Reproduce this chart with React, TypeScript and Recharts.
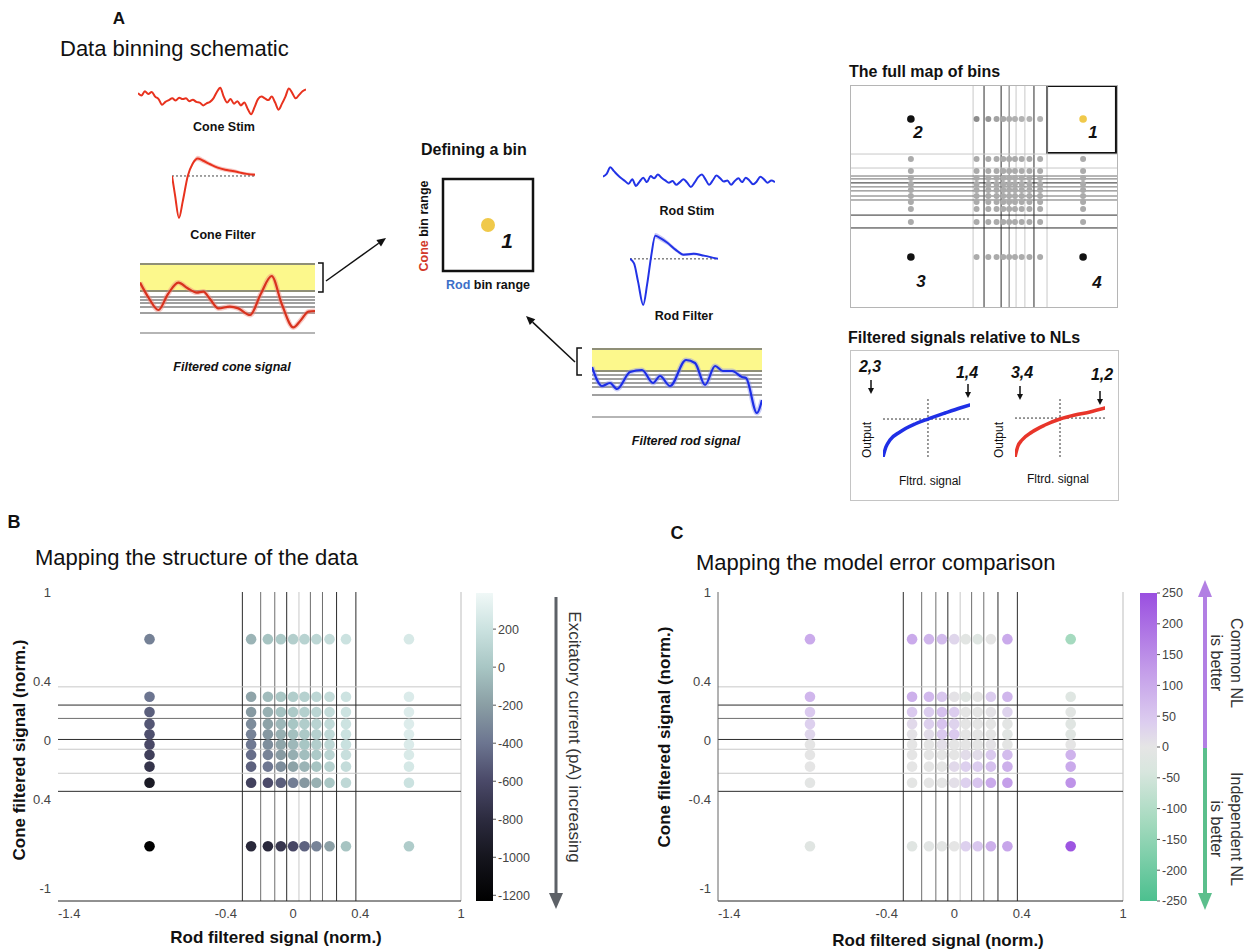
import React from 'react';
import {
  ScatterChart, Scatter, XAxis, YAxis, ReferenceLine, ReferenceArea, Cell,
  BarChart, Bar, LineChart, Line, ComposedChart, Area,
} from 'recharts';

const FONT = '"Liberation Sans", Arial, Helvetica, sans-serif';

// ---------- panels B and C: bins ----------
const rodBinCenters = [-0.855, -0.25, -0.15, -0.073, 0.0, 0.068, 0.139, 0.217, 0.315, 0.69];
const coneBinCenters = [0.682, 0.293, 0.19, 0.11, 0.04, -0.029, -0.099, -0.178, -0.287, -0.716];
const rodBinEdges = [-0.302, -0.193, -0.109, -0.038, 0.035, 0.103, 0.175, 0.259, 0.374];
const rodEdgeShade = ['dark', 'mid', 'mid', 'dark', 'light', 'mid', 'mid', 'dark', 'dark'];
const coneBinEdges = [0.36, 0.237, 0.147, 0.005, -0.061, -0.223, -0.345];
const coneEdgeShade = ['light', 'dark', 'mid', 'dark', 'light', 'light', 'dark'];
const rodTicks = [-1.4, -0.4, 0, 0.4, 1];
const coneTicks = [1, 0.4, 0, -0.4, -1];

// excitatory current (pA), rows = cone bins top->bottom, cols = rod bins left->right
const excitatoryCurrent = [
  [-340, -90, -10, 30, 60, 90, 120, 160, 200, 260],
  [-400, -170, -50, 10, 50, 80, 120, 160, 210, 280],
  [-500, -220, -110, -20, 30, 70, 110, 160, 210, 290],
  [-540, -290, -180, -70, 0, 50, 100, 150, 210, 290],
  [-570, -330, -230, -110, -30, 20, 80, 140, 200, 290],
  [-610, -380, -280, -160, -70, 0, 60, 130, 190, 280],
  [-670, -430, -330, -210, -120, -40, 30, 110, 180, 270],
  [-740, -490, -390, -280, -180, -90, -10, 80, 160, 250],
  [-950, -650, -590, -500, -360, -230, -110, 10, 130, 200],
  [-1220, -830, -820, -720, -620, -480, -330, -190, -10, 40],
];

// model error difference, positive = common NL better
const errorDifference = [
  [100, 100, 80, 70, 25, -10, -20, 0, 100, -120],
  [80, 90, 75, 50, 5, -15, 0, 40, 80, -20],
  [45, 45, 40, 60, 40, 0, 0, 5, 30, -10],
  [35, 20, 35, 55, 30, 0, 0, 0, -5, -15],
  [25, 5, 15, 45, 45, 0, 0, 0, -12, -15],
  [0, 0, 0, 10, 0, 0, 0, 5, -3, 0],
  [0, 0, 0, 0, 0, 15, 15, 45, 70, 85],
  [0, 0, 0, 0, 20, 35, 40, 60, 90, 100],
  [-5, -3, 0, 0, 10, 35, 55, 100, 120, 140],
  [-15, -15, -8, -5, 0, 35, 50, 90, 110, 240],
];

const currentRange = [-1230, 390];
const currentTicks = [200, 0, -200, -400, -600, -800, -1000, -1200];
const errorRange = [-250, 250];
const errorTicks = [250, 200, 150, 100, 50, 0, -50, -100, -150, -200, -250];

const currentStops: [number, string][] = [
  [-1230, '#000000'], [-1000, '#15151d'], [-800, '#2c2b3f'], [-600, '#4a4968'],
  [-400, '#6c7590'], [-200, '#8a9ea4'], [0, '#a8c6c4'], [200, '#cbe2e0'], [390, '#f0f8f7'],
];
const errorStops: [number, string][] = [
  [-250, '#4cc08f'], [-125, '#a2d9bd'], [-40, '#d8e6de'], [0, '#e5e5e5'],
  [40, '#dccdef'], [125, '#c39ce9'], [250, '#9a4fe0'],
];

// ---------- panel A schematic traces ----------
const coneStimTrace = [2.5, 1.8, 3.0, 2.2, 2.8, 1.5, 0.8, -0.8, 0, 0.5, 1.0, 0.4, 1.2, 0.8, 1.0, 0.2, 0.6, 0, -0.2, -1.0,
  -0.4, 0, 1.0, 2.8, 4.0, 1.5, -0.2, 0.8, -0.5, 0.2, -1.0, -0.2, -2.0, -3.5, -1.5, 0.8, 1.5, 1.0, 0.5, 1.5,
  -0.2, -2.2, -0.5, 1.5, 3.8, 2.5, 1.0, 2.0, 3.0, 3.5];
const rodStimTrace = [0.5, 1.0, 2.2, 1.5, 0.8, 0.2, -0.3, -0.8, 0.0, -1.2, -0.4, 0.3, -0.5, 0.6, 0.2, 0.9, 0.3, -0.2, -0.6, -0.3,
  -1.0, -0.5, 0.0, -0.6, -1.4, -0.6, 0.4, 0.9, 0.0, -1.0, -0.2, 0.7, 0.2, -0.4, -0.2, -1.0, -0.3, 0.2, -0.5, 0.3,
  -0.2, -0.9, -0.4, 0.5, 0.0, -0.6, -0.2, -0.5];

const coneFilterT = [0, 3.6, 8.4, 13, 19, 25, 31, 37, 46, 55, 64, 73, 82, 90, 100];
const coneFilterV = [0, -0.45, -1.0, -0.6, 0.0, 0.3, 0.42, 0.37, 0.28, 0.2, 0.15, 0.12, 0.08, 0.05, 0.03];
const coneFilterErr = [0, 0, 0, 0.01, 0.02, 0.04, 0.06, 0.06, 0.05, 0.05, 0.05, 0.05, 0.04, 0.04, 0.04];
const rodFilterT = [0, 4.6, 9.2, 15, 19.5, 24, 28.7, 34.5, 42.5, 51.7, 60.9, 72.4, 83.9, 100];
const rodFilterV = [0, -0.1, -0.5, -1.0, -0.55, 0.05, 0.5, 0.45, 0.35, 0.2, 0.09, 0.11, 0.07, 0.0];
const rodFilterErr = [0, 0, 0, 0, 0.01, 0.03, 0.06, 0.06, 0.05, 0.04, 0.03, 0.03, 0.02, 0.01];

const coneSignalT = [0, 5, 10.5, 16, 21.9, 27, 32.4, 36.2, 40, 44.8, 51.4, 56.2, 62.9, 69, 75.2, 81, 87.6, 92, 96.2, 100];
const coneSignalV = [0.87, 0.1, -0.5, 0.3, 0.87, 0.6, 0.37, 0.42, 0.05, -0.42, -0.33, -0.42, -0.75, 0.3, 1.2, -0.2, -1.37, -1.0, -0.58, -0.55];
const coneLevels = [1.8, 0.45, 0.15, 0, -0.15, -0.35, -0.65, -1.65];
const coneBand = [0.45, 1.8];
const rodSignalT = [0, 5.9, 10.6, 14.7, 22.4, 29.4, 35.9, 40, 45.9, 55.3, 60.6, 66.5, 72.4, 77, 82.4, 88.2, 90.6, 97, 100];
const rodSignalV = [0.9, -0.05, 0.1, -0.2, 0.65, 0.75, 0.1, 0.45, -0.05, 1.25, 1.1, 0.0, 0.95, 0.7, 0.7, 0.4, 0.35, -1.4, -0.75];
const rodLevels = [1.8, 0.7, 0.5, 0.3, 0.1, -0.1, -0.5, -1.6];
const rodBand = [0.7, 1.8];

// full map of bins (schematic units 0-100)
const mapCols = [22.8, 47.4, 51.8, 54.9, 57.4, 59.6, 61.8, 64.3, 67.2, 71.2, 87.3];
const mapRows = [84.7, 66.7, 61.3, 58.1, 55.4, 52.7, 50.0, 47.3, 44.1, 38.3, 22.5];
const mapVLines = [46.1, 50.2, 56.6, 59.6, 62.2, 65.5, 68.9, 73.8];
const mapVShade = ['light', 'dark', 'dark', 'mid', 'light', 'light', 'dark', 'light'];
const mapHLines = [68.9, 62.6, 59.0, 57.7, 55.9, 54.1, 52.3, 50.0, 48.2, 41.4, 35.6];
const mapHShade = ['light', 'light', 'mid', 'mid', 'dark', 'mid', 'mid', 'mid', 'mid', 'dark', 'dark'];
const mapTopShade = ['#8c8c8c', '#969696', '#a3a3a3', '#a8a8a8', '#adadad', '#b0b0b0', '#b3b3b3', '#b3b3b3', '#b3b3b3'];

// nonlinearity curves (normalised)
const rodNlX = [0, 0.034, 0.08, 0.195, 0.368, 0.517, 0.713, 0.885, 1];
const rodNlY = [0, 0.167, 0.283, 0.417, 0.55, 0.633, 0.733, 0.817, 0.867];
const coneNlX = [0, 0.033, 0.078, 0.189, 0.333, 0.5, 0.667, 0.833, 1];
const coneNlY = [0, 0.186, 0.288, 0.424, 0.542, 0.644, 0.712, 0.763, 0.83];

const shadeColor: Record<string, string> = { dark: '#2b2b2b', mid: '#6e6e6e', light: '#c8c8c8' };

const hexToRgb = (h: string) => [1, 3, 5].map((i) => parseInt(h.slice(i, i + 2), 16));
const makeScale = (stops: [number, string][]) => (v: number) => {
  if (v <= stops[0][0]) return stops[0][1];
  for (let k = 1; k < stops.length; k++) {
    if (v <= stops[k][0]) {
      const t = (v - stops[k - 1][0]) / (stops[k][0] - stops[k - 1][0]);
      const a = hexToRgb(stops[k - 1][1]);
      const b = hexToRgb(stops[k][1]);
      return `rgb(${a.map((x, i) => Math.round(x + (b[i] - x) * t)).join(',')})`;
    }
  }
  return stops[stops.length - 1][1];
};
const currentColor = makeScale(currentStops);
const errorColor = makeScale(errorStops);

const Txt = ({ x, y, children, size = 13, bold = false, italic = false, rotate = 0, color = '#111', start = false, lh }: any) => (
  <div
    style={{
      position: 'absolute', left: x, top: y, whiteSpace: 'nowrap', fontSize: size,
      fontWeight: bold ? 700 : 400, fontStyle: italic ? 'italic' : 'normal', color,
      lineHeight: lh || 1.15, textAlign: 'center',
      transform: `translate(${start ? '0' : '-50%'}, -50%) rotate(${rotate}deg)`,
    }}
  >
    {children}
  </div>
);

function Arrow({ x1, y1, x2, y2, color = '#111', w = 1.5, head = 9, hw = 4 }: any) {
  const dx = x2 - x1, dy = y2 - y1, L = Math.hypot(dx, dy), ux = dx / L, uy = dy / L;
  const bx = x2 - ux * head, by = y2 - uy * head;
  return (
    <g>
      <line x1={x1} y1={y1} x2={bx} y2={by} stroke={color} strokeWidth={w} />
      <polygon points={`${x2},${y2} ${bx - uy * hw},${by + ux * hw} ${bx + uy * hw},${by - ux * hw}`} fill={color} />
    </g>
  );
}

const RodTick = (props: any) => {
  const { x, y, payload } = props;
  return (
    <text x={x} y={y} dy="0.71em" textAnchor={payload.value === -1.4 ? 'start' : 'middle'} fontSize={13} fill="#444">
      {payload.value}
    </text>
  );
};

const dotShape = (r: number) => (p: any) => <circle cx={p.cx} cy={p.cy} r={r} fill={p.fill} />;

function BinScatter({ grid, colorOf, left, width, yFmt, leftAxis }: any) {
  const pts: any[] = [];
  coneBinCenters.forEach((cy, i) =>
    rodBinCenters.forEach((cx, j) => pts.push({ rod: cx, cone: cy, v: grid[i][j] })));
  return (
    <div style={{ position: 'absolute', left, top: 560 }}>
      <ScatterChart width={width} height={392} margin={{ top: 32, right: 20, bottom: 21, left: 18 }}>
        <XAxis type="number" dataKey="rod" domain={[-1.4, 1]} ticks={rodTicks} interval={0} tick={<RodTick />}
          tickLine={false} tickSize={0} tickMargin={8} axisLine={{ stroke: '#222' }} height={30} allowDataOverflow />
        <YAxis type="number" dataKey="cone" domain={[-1.085, 1]} ticks={coneTicks} interval={0} tickFormatter={yFmt}
          tickLine={false} tickSize={0} tickMargin={7} axisLine={leftAxis ? { stroke: '#666' } : false} width={40}
          tick={{ fontSize: 13, fill: '#444' }} allowDataOverflow />
        <ReferenceLine x={1} stroke="#bdbdbd" />
        {rodBinEdges.map((e, k) => (
          <ReferenceLine key={'v' + k} x={e} stroke={shadeColor[rodEdgeShade[k]]} strokeWidth={1} />
        ))}
        {coneBinEdges.map((e, k) => (
          <ReferenceLine key={'h' + k} y={e} stroke={shadeColor[coneEdgeShade[k]]} strokeWidth={1} />
        ))}
        <Scatter data={pts} isAnimationActive={false} shape={dotShape(5.3)}>
          {pts.map((p, k) => <Cell key={k} fill={colorOf(p.v)} />)}
        </Scatter>
      </ScatterChart>
    </div>
  );
}

function ColorBar({ left, range, ticks, gradId }: any) {
  return (
    <div style={{ position: 'absolute', left, top: 560 }}>
      <BarChart width={100} height={392} data={[{ name: 'cb', span: range }]}
        margin={{ top: 33, right: 27, bottom: 51, left: 6 }} barCategoryGap={0}>
        <XAxis dataKey="name" hide />
        <YAxis orientation="right" type="number" domain={range} ticks={ticks} interval={0} width={50}
          axisLine={false} tickSize={3} tickMargin={2} tickLine={{ stroke: '#555' }}
          tick={{ fontSize: 12.5, fill: '#444' }} allowDataOverflow />
        <Bar dataKey="span" fill={`url(#${gradId})`} isAnimationActive={false} />
      </BarChart>
    </div>
  );
}

function Gradient({ id, stops, range }: any) {
  const [lo, hi] = range;
  const ordered = [...stops].reverse();
  return (
    <linearGradient id={id} x1="0" y1="0" x2="0" y2="1">
      {ordered.map(([v, c]: any, k: number) => (
        <stop key={k} offset={(hi - v) / (hi - lo)} stopColor={c} />
      ))}
    </linearGradient>
  );
}

function StimTrace({ left, top, width, height, values, color, domain }: any) {
  const data = values.map((v: number, i: number) => ({ i, v }));
  return (
    <div style={{ position: 'absolute', left, top }}>
      <LineChart width={width} height={height} data={data} margin={{ top: 0, right: 0, bottom: 0, left: 0 }}>
        <XAxis type="number" dataKey="i" domain={[0, values.length - 1]} hide />
        <YAxis domain={domain} hide />
        <Line dataKey="v" stroke={color} strokeWidth={2} dot={false} type="monotone" isAnimationActive={false} />
      </LineChart>
    </div>
  );
}

function FilterTrace({ left, top, width, height, t, v, err, color, shade, domain }: any) {
  const data = t.map((tt: number, i: number) => ({ t: tt, v: v[i], band: [v[i] - err[i], v[i] + err[i]] }));
  return (
    <div style={{ position: 'absolute', left, top }}>
      <ComposedChart width={width} height={height} data={data} margin={{ top: 0, right: 0, bottom: 0, left: 0 }}>
        <XAxis type="number" dataKey="t" domain={[0, 100]} hide />
        <YAxis domain={domain} hide allowDataOverflow />
        <ReferenceLine y={0} stroke="#444" strokeDasharray="2 2" />
        <Area dataKey="band" stroke="none" fill={shade} fillOpacity={0.8} type="monotone" isAnimationActive={false} />
        <Line dataKey="v" stroke={color} strokeWidth={2} dot={false} type="monotone" isAnimationActive={false} />
      </ComposedChart>
    </div>
  );
}

function FilteredSignal({ left, top, width, height, t, v, levels, band, color, glow }: any) {
  const data = t.map((tt: number, i: number) => ({ t: tt, v: v[i] }));
  return (
    <div style={{ position: 'absolute', left, top }}>
      <LineChart width={width} height={height} data={data} margin={{ top: 0, right: 0, bottom: 0, left: 0 }}>
        <XAxis type="number" dataKey="t" domain={[0, 100]} hide />
        <YAxis domain={[-2, 2.25]} hide allowDataOverflow />
        <ReferenceArea y1={band[0]} y2={band[1]} fill="#fcf88c" fillOpacity={1} stroke="none" />
        {levels.map((l: number, k: number) => (
          <ReferenceLine key={k} y={l}
            stroke={l === band[0] || l === band[1] ? '#8f8f77' : k === levels.length - 1 ? '#b5b5b5' : '#a0a0a0'}
            strokeWidth={2} />
        ))}
        <Line dataKey="v" stroke={glow} strokeWidth={5} strokeOpacity={0.45} dot={false} type="monotone" isAnimationActive={false} />
        <Line dataKey="v" stroke={color} strokeWidth={2.2} dot={false} type="monotone" isAnimationActive={false} />
      </LineChart>
    </div>
  );
}

function FullMap() {
  const gray: any[] = [];
  const top: any[] = [];
  const corners = [
    { x: mapCols[0], y: mapRows[0], c: '#111' },
    { x: mapCols[10], y: mapRows[0], c: '#f0c94a' },
    { x: mapCols[0], y: mapRows[10], c: '#111' },
    { x: mapCols[10], y: mapRows[10], c: '#111' },
  ];
  mapRows.forEach((y, i) =>
    mapCols.forEach((x, j) => {
      const outerCol = j === 0 || j === mapCols.length - 1;
      const outerRow = i === 0 || i === mapRows.length - 1;
      if (outerCol && outerRow) return;
      if (i === 0) top.push({ x, y, c: mapTopShade[j - 1] });
      else gray.push({ x, y });
    }));
  return (
    <div style={{ position: 'absolute', left: 850, top: 85 }}>
      <ScatterChart width={267} height={222} margin={{ top: 0, right: 0, bottom: 0, left: 0 }}>
        <XAxis type="number" dataKey="x" domain={[0, 100]} hide />
        <YAxis type="number" dataKey="y" domain={[0, 100]} hide />
        {mapVLines.map((x, k) => <ReferenceLine key={'v' + k} x={x} stroke={shadeColor[mapVShade[k]]} />)}
        {mapHLines.map((y, k) => <ReferenceLine key={'h' + k} y={y} stroke={shadeColor[mapHShade[k]]} />)}
        <ReferenceArea x1={73.8} x2={99.6} y1={69.4} y2={99.6} fill="none" stroke="#111" strokeWidth={2} />
        <Scatter data={gray} fill="#ababab" isAnimationActive={false} shape={dotShape(3)} />
        <Scatter data={top} isAnimationActive={false} shape={dotShape(3)}>
          {top.map((p, k) => <Cell key={k} fill={p.c} />)}
        </Scatter>
        <Scatter data={corners} isAnimationActive={false} shape={dotShape(3.8)}>
          {corners.map((p, k) => <Cell key={k} fill={p.c} />)}
        </Scatter>
      </ScatterChart>
    </div>
  );
}

function NlCurve({ left, top, width, height, xs, ys, color, cross }: any) {
  const data = xs.map((x: number, i: number) => ({ x, y: ys[i] }));
  return (
    <div style={{ position: 'absolute', left, top }}>
      <LineChart width={width} height={height} data={data} margin={{ top: 0, right: 0, bottom: 0, left: 0 }}>
        <XAxis type="number" dataKey="x" domain={[0, 1]} hide />
        <YAxis domain={[0, 1]} hide />
        <ReferenceLine x={cross[0]} stroke="#333" strokeDasharray="2 2" />
        <ReferenceLine y={cross[1]} stroke="#333" strokeDasharray="2 2" />
        <Line dataKey="y" stroke={color} strokeWidth={3.5} strokeLinecap="round" dot={false} type="monotone" isAnimationActive={false} />
      </LineChart>
    </div>
  );
}

export default function App() {
  return (
    <div style={{ position: 'absolute', left: 0, top: 0, width: 1247, height: 952, background: '#fff', fontFamily: FONT, overflow: 'hidden' }}>
      <svg width={0} height={0} style={{ position: 'absolute' }}>
        <defs>
          <Gradient id="gradCurrent" stops={currentStops} range={currentRange} />
          <Gradient id="gradError" stops={errorStops} range={errorRange} />
        </defs>
      </svg>

      {/* ---------------- panel A ---------------- */}
      <Txt x={119} y={19} size={17} bold>A</Txt>
      <Txt x={60} y={49} size={22} start>Data binning schematic</Txt>

      <StimTrace left={138} top={86} width={168} height={30} values={coneStimTrace} color="#e8321e" domain={[-4, 4.5]} />
      <Txt x={224} y={127} size={12.5} bold>Cone Stim</Txt>
      <FilterTrace left={172} top={150} width={83} height={75} t={coneFilterT} v={coneFilterV} err={coneFilterErr}
        color="#e8321e" shade="#f6b8b2" domain={[-1.17, 0.62]} />
      <Txt x={223} y={235} size={12.5} bold>Cone Filter</Txt>
      <FilteredSignal left={140} top={255} width={175} height={85} t={coneSignalT} v={coneSignalV}
        levels={coneLevels} band={coneBand} color="#d8321e" glow="#f08a7e" />
      <Txt x={232} y={367} size={12.5} bold italic>Filtered cone signal</Txt>

      <Txt x={421} y={150} size={16} bold start>Defining a bin</Txt>
      <Txt x={424} y={226} size={12.5} bold rotate={-90}>
        <span style={{ color: '#d23a2a' }}>Cone</span> bin range
      </Txt>
      <Txt x={488} y={285} size={12.5} bold>
        <span style={{ color: '#3c6fc8' }}>Rod</span> bin range
      </Txt>
      <Txt x={507} y={241} size={21} bold italic>1</Txt>

      <StimTrace left={603} top={163} width={172} height={30} values={rodStimTrace} color="#2233e6" domain={[-2.5, 3]} />
      <Txt x={687} y={211} size={12.5} bold>Rod Stim</Txt>
      <FilterTrace left={630} top={228} width={88} height={82} t={rodFilterT} v={rodFilterV} err={rodFilterErr}
        color="#2233e6" shade="#b9b7f2" domain={[-1.11, 0.67]} />
      <Txt x={684} y={316} size={12.5} bold>Rod Filter</Txt>
      <FilteredSignal left={592} top={340} width={170} height={85} t={rodSignalT} v={rodSignalV}
        levels={rodLevels} band={rodBand} color="#1d2ee6" glow="#8a90f0" />
      <Txt x={686} y={441} size={12.5} bold italic>Filtered rod signal</Txt>

      <Txt x={849} y={72} size={16} bold start>The full map of bins</Txt>
      <FullMap />
      <Txt x={918} y={133} size={17} bold italic>2</Txt>
      <Txt x={1093} y={133} size={17} bold italic>1</Txt>
      <Txt x={921} y={282} size={17} bold italic>3</Txt>
      <Txt x={1097} y={283} size={17} bold italic>4</Txt>

      <Txt x={848} y={338} size={16} bold start>Filtered signals relative to NLs</Txt>
      <NlCurve left={883} top={397} width={87} height={60} xs={rodNlX} ys={rodNlY} color="#1f2fe6" cross={[0.517, 0.633]} />
      <NlCurve left={1015} top={398} width={90} height={59} xs={coneNlX} ys={coneNlY} color="#e8352a" cross={[0.5, 0.66]} />
      <Txt x={870} y={367} size={16} bold italic>2,3</Txt>
      <Txt x={967} y={373} size={16} bold italic>1,4</Txt>
      <Txt x={1022} y={373} size={16} bold italic>3,4</Txt>
      <Txt x={1102} y={375} size={16} bold italic>1,2</Txt>
      <Txt x={868} y={440} size={12} rotate={-90}>Output</Txt>
      <Txt x={1000} y={440} size={12} rotate={-90}>Output</Txt>
      <Txt x={930} y={482} size={12}>Fltrd. signal</Txt>
      <Txt x={1058} y={480} size={12}>Fltrd. signal</Txt>

      {/* ---------------- panel B ---------------- */}
      <Txt x={14} y={522} size={18} bold>B</Txt>
      <Txt x={35} y={558} size={22} start>Mapping the structure of the data</Txt>
      <BinScatter grid={excitatoryCurrent} colorOf={currentColor} left={0} width={481}
        yFmt={(v: number) => (v === -0.4 ? '0.4' : String(v))} leftAxis={false} />
      <ColorBar left={470} range={currentRange} ticks={currentTicks} gradId="gradCurrent" />
      <Txt x={20} y={750} size={17} bold rotate={-90}>Cone filtered signal (norm.)</Txt>
      <Txt x={276} y={938} size={17} bold>Rod filtered signal (norm.)</Txt>
      <Txt x={574} y={737} size={17} rotate={90} color="#333">Excitatory current (pA) increasing</Txt>

      {/* ---------------- panel C ---------------- */}
      <Txt x={677} y={533} size={18} bold>C</Txt>
      <Txt x={696} y={563} size={22} start>Mapping the model error comparison</Txt>
      <BinScatter grid={errorDifference} colorOf={errorColor} left={660} width={483}
        yFmt={(v: number) => String(v)} leftAxis />
      <ColorBar left={1134} range={errorRange} ticks={errorTicks} gradId="gradError" />
      <Txt x={665} y={737} size={17} bold rotate={-90}>Cone filtered signal (norm.)</Txt>
      <Txt x={938} y={941} size={17} bold>Rod filtered signal (norm.)</Txt>
      <Txt x={1226} y={663} size={16} rotate={90} color="#333" lh="20px">Common NL<br />is better</Txt>
      <Txt x={1226} y={829} size={16} rotate={90} color="#333" lh="20px">Independent NL<br />is better</Txt>

      {/* ---------------- annotations ---------------- */}
      <svg width={1247} height={952} style={{ position: 'absolute', left: 0, top: 0, pointerEvents: 'none' }}>
        <path d="M318,263 H323 V292 H318" fill="none" stroke="#111" strokeWidth={1.5} />
        <Arrow x1={326} y1={281} x2={386} y2={238} />
        <path d="M582,348 H577 V375 H582" fill="none" stroke="#111" strokeWidth={1.5} />
        <Arrow x1={575} y1={362} x2={526} y2={316} />
        <rect x={443} y={179} width={90} height={92} fill="none" stroke="#111" strokeWidth={2.5} />
        <circle cx={488} cy={225} r={7} fill="#f0c94a" />
        <rect x={850.5} y={85.5} width={267} height={222} fill="none" stroke="#b5b5b5" />
        <rect x={850.5} y={350.5} width={268} height={150} fill="none" stroke="#c4c4c4" />
        <Arrow x1={871} y1={380} x2={871} y2={394} head={6} hw={3} w={1.5} />
        <Arrow x1={968} y1={384} x2={968} y2={398} head={6} hw={3} w={1.5} />
        <Arrow x1={1020} y1={386} x2={1020} y2={400} head={6} hw={3} w={1.5} />
        <Arrow x1={1100} y1={391} x2={1100} y2={405} head={6} hw={3} w={1.5} />
        <Arrow x1={556} y1={597} x2={556} y2={909} color="#5d6167" w={3} head={16} hw={7} />
        <Arrow x1={1205} y1={748} x2={1205} y2={580} color="#b27fe3" w={4} head={17} hw={7} />
        <Arrow x1={1205} y1={748} x2={1205} y2={910} color="#5bbf8c" w={4} head={17} hw={7} />
      </svg>
    </div>
  );
}
